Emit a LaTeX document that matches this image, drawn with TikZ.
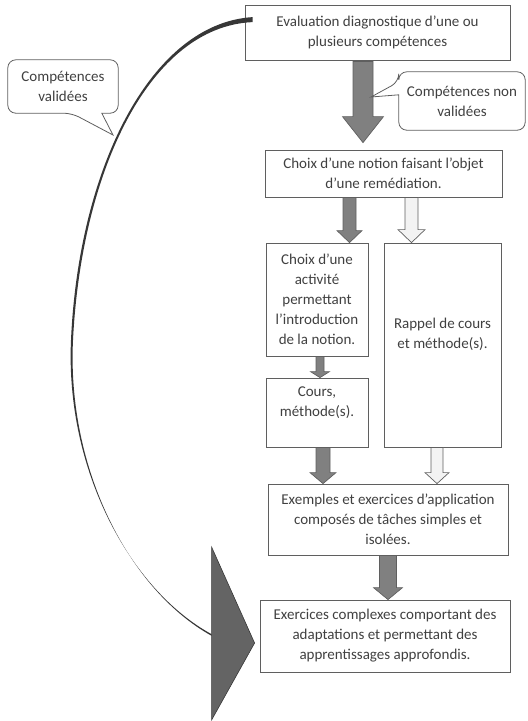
\documentclass[tikz,border=0pt]{standalone}
\usepackage{fontspec}
\setmainfont{Carlito}
\usetikzlibrary{calc}
\definecolor{txtG}{RGB}{64,64,64}
\definecolor{lineG}{RGB}{95,95,95}
\definecolor{arrD}{RGB}{128,128,128}
\definecolor{arrL}{RGB}{243,243,243}
\definecolor{curveG}{RGB}{55,55,55}
\definecolor{headG}{RGB}{100,100,100}

\newcommand{\blockarrow}[6]{%
  \draw[#1] let \p1=(#2), \p2=(#3) in
    (\x1-#4,\y1) -- (\x1-#4,\y2+#6) -- (\x1-#5,\y2+#6) -- (\x1,\y2)
    -- (\x1+#5,\y2+#6) -- (\x1+#4,\y2+#6) -- (\x1+#4,\y1) -- cycle;}

\begin{document}
\begin{tikzpicture}[x=1pt,y=-1pt,font=\fontsize{15}{20}\selectfont]
  \tikzset{bx/.style={draw=lineG,line width=0.8pt,align=center,text=txtG,inner sep=2pt},
    bubble/.style={text=txtG,align=center,inner sep=0pt},
    callout/.style={draw=lineG,line width=0.8pt},
    darr/.style={fill=arrD,draw=lineG,line width=0.7pt},
    larr/.style={fill=arrL,draw=lineG,line width=0.7pt}}
  \useasboundingbox (0,0) rectangle (528,721);
  \node[bx,minimum width=265pt,minimum height=55pt] (eval) at (377.5,32.5) {Evaluation diagnostique d’une ou\\plusieurs compétences};
  \node[bx,minimum width=237pt,minimum height=47pt] (notion) at (383.5,173.5) {Choix d’une notion faisant l’objet\\d’une remédiation.};
  \node[bx,minimum width=102pt,minimum height=113pt] (activ) at (317,299.5) {Choix d’une\\activité\\permettant\\l’introduction\\de la notion.};
  \node[bx,minimum width=117pt,minimum height=204pt,text depth=24pt] (rappel) at (442.5,345) {Rappel de cours\\et méthode(s).};
  \node[bx,minimum width=102pt,minimum height=69pt,text depth=22pt] (cours) at (317,412.5) {Cours,\\méthode(s).};
  \node[bx,minimum width=240pt,minimum height=71pt] (exemples) at (388,519.5) {Exemples et exercices d’application\\composés de tâches simples et\\isolées.};
  \node[bx,minimum width=250pt,minimum height=72pt] (exer) at (385,636) {Exercices complexes comportant des\\adaptations et permettant des\\apprentissages approfondis.};

  \blockarrow{darr}{$(eval.south)+(-14.5,1)$}{$(notion.north)+(0,-7)$}{10pt}{20.5pt}{26pt}
  \blockarrow{darr}{$(notion.south)+(-34,0)$}{activ.north}{6.5pt}{12.5pt}{12pt}
  \blockarrow{larr}{$(notion.south)+(28,0)$}{rappel.north}{6.5pt}{13.5pt}{13pt}
  \blockarrow{darr}{$(activ.south)+(3,0)$}{cours.north}{4pt}{9.5pt}{6pt}
  \blockarrow{darr}{$(cours.south)+(6,0)$}{$(exemples.north)$}{7pt}{13pt}{11pt}
  \blockarrow{larr}{$(rappel.south)+(-5.5,0)$}{exemples.north}{6pt}{12pt}{11pt}
  \blockarrow{darr}{exemples.south}{exer.north}{8.5pt}{14.5pt}{12pt}

  \coordinate (cs) at ($(eval.north west)+(8,15)$);
  \coordinate (ttip) at ($(exer.west)+(-5,7)$);
  \coordinate (cend) at ($(ttip)+(-43,-8)$);
  \fill[curveG] ($(cs)+(0,-2.5)$) .. controls (150,23.5) and (78.5,170) .. (71,340)
    .. controls (65.2,470) and (130,589.5) .. ($(cend)+(0,-0.8)$) -- ($(cend)+(0,0.8)$)
    .. controls (130,590.5) and (66.8,470) .. (73,340)
    .. controls (81.5,170) and (150,26.5) .. ($(cs)+(0,2.5)$) -- cycle;
  \draw[fill=headG,draw=curveG,line width=0.6pt] ($(ttip)+(-43,-96)$) -- (ttip) -- ($(ttip)+(-43,77)$) -- cycle;

  \node[bubble,minimum width=110pt,minimum height=53pt] (valid) at (63,86.5) {Compétences\\validées};
  \coordinate (vtip) at (113,135);
  \draw[callout] ($(valid.south west)+(64,0)$) -- (vtip) -- ($(valid.south west)+(94,0)$)
    [rounded corners=8pt] -- (valid.south east) -- (valid.north east) -- (valid.north west) -- (valid.south west) -- cycle;
  \node[bubble,minimum width=126pt,minimum height=58pt] (nonvalid) at (462,101) {Compétences non\\validées};
  \coordinate (ntip) at (371,97);
  \draw[callout] ($(nonvalid.north west)+(0,10)$) -- (ntip) -- ($(nonvalid.north west)+(0,23)$)
    [rounded corners=8pt] -- (nonvalid.south west) -- (nonvalid.south east) -- (nonvalid.north east) -- (nonvalid.north west) -- cycle;
\end{tikzpicture}
\end{document}
